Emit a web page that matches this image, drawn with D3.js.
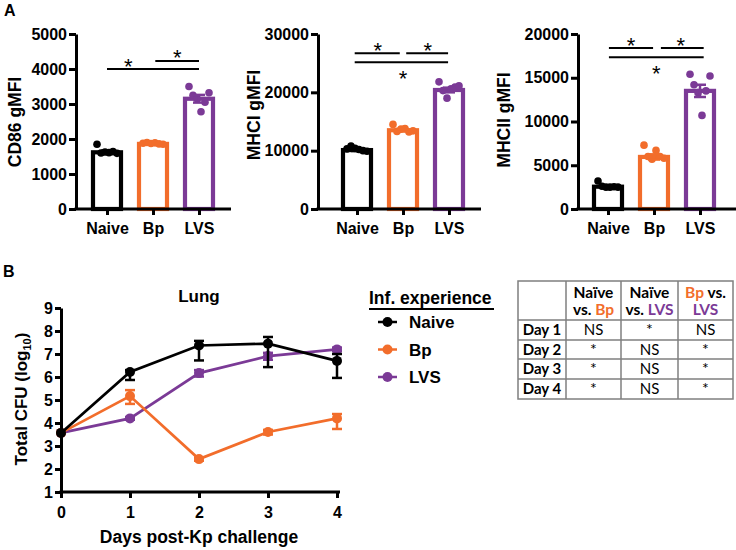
<!DOCTYPE html>
<html><head><meta charset="utf-8">
<script src="https://cdn.jsdelivr.net/npm/d3@7"></script>
<style>body{margin:0;background:#fff}svg{display:block}</style>
</head><body>
<svg id="c" width="736" height="550"></svg>
<script>
// ---------- DATA ----------
const groups = ["Naive", "Bp", "LVS"];
const groupColors = ["#000000", "#F26D2B", "#7B3A96"];

const cd86Ticks = [0, 1000, 2000, 3000, 4000, 5000];
const cd86Mean = [1620, 1860, 3150];
const cd86Sem = [45, 15, 110];
const cd86Pts = [[1850, 1600, 1630, 1610, 1640, 1590], [1880, 1900, 1870, 1890, 1860, 1850], [3500, 3250, 3150, 2780, 3050, 3320]];

const mhciTicks = [0, 10000, 20000, 30000];
const mhciMean = [10100, 13500, 20400];
const mhciSem = [150, 200, 400];
const mhciPts = [[10300, 10800, 10400, 10200, 10000, 9900], [14500, 13300, 13700, 13800, 13200, 13400], [21800, 20300, 19000, 20600, 20900, 21100]];

const mhciiTicks = [0, 5000, 10000, 15000, 20000];
const mhciiMean = [2550, 5950, 13500];
const mhciiSem = [100, 300, 700];
const mhciiPts = [[3200, 2600, 2500, 2500, 2550, 2500], [7300, 6000, 5700, 6700, 6000, 5800], [15400, 14200, 13300, 10700, 13500, 15200]];

// significance brackets: [from category, to category, y value]
const cd86Lines = [[0, 2, 4000], [1.05, 2, 4230]];
const cd86Stars = [[0.46, 4000], [1.53, 4230]];
const mhciLines = [[-0.05, 0.93, 26700], [1.07, 1.98, 26700], [-0.05, 1.98, 25150]];
const mhciStars = [[0.45, 26700, "above"], [1.54, 26700, "above"], [1.0, 25150, "below"]];
const mhciiLines = [[0.02, 0.98, 18400], [1.15, 2.08, 18400], [0.02, 2.08, 17350]];
const mhciiStars = [[0.5, 18400, "above"], [1.58, 18400, "above"], [1.05, 17350, "below"]];

// Panel B
const days = [0, 1, 2, 3, 4];
const yTicksB = [1, 2, 3, 4, 5, 6, 7, 8, 9];
const naiveCFU = [3.57, 6.22, 7.37, 7.45, 6.70];
const naiveLo = [3.57, 5.87, 6.72, 6.43, 5.96];
const naiveHi = [3.57, 6.30, 7.57, 7.74, 7.00];
const bpCFU = [3.57, 5.17, 2.43, 3.61, 4.20];
const bpLo = [3.57, 4.83, 2.36, 3.50, 3.74];
const bpHi = [3.57, 5.43, 2.50, 3.70, 4.39];
const lvsCFU = [3.57, 4.20, 6.17, 6.91, 7.20];
const lvsLo = [3.57, 4.14, 6.02, 6.75, 7.12];
const lvsHi = [3.57, 4.26, 6.30, 7.05, 7.28];

const tableRowLabels = ["Day 1", "Day 2", "Day 3", "Day 4"];
const colNaiveBp = ["NS", "*", "*", "*"];
const colNaiveLvs = ["*", "NS", "NS", "NS"];
const colBpLvs = ["NS", "*", "*", "*"];

// ---------- DRAW ----------
const svg = d3.select("#c");
const FONT = "'Liberation Sans', Arial, sans-serif";

svg.append("text").attr("x", 4).attr("y", 16).text("A")
  .attr("font-family", FONT).attr("font-weight", "bold").attr("font-size", 16);
svg.append("text").attr("x", 3).attr("y", 277).text("B")
  .attr("font-family", FONT).attr("font-weight", "bold").attr("font-size", 16);

function styleAxis(g) {
  g.selectAll("path,line").attr("stroke", "#000").attr("stroke-width", 3);
  g.selectAll("text").attr("font-family", FONT).attr("font-weight", "bold")
    .attr("font-size", 16).attr("fill", "#000");
}

function barChart(cfg) {
  const g = svg.append("g");
  const y = d3.scaleLinear().domain([0, cfg.ticks[cfg.ticks.length - 1]]).range([209, 34]);
  const x = d3.scalePoint().domain(groups).range([cfg.first, cfg.first + 92]);

  groups.forEach((gname, i) => {
    const cx = x(gname), col = groupColors[i];
    g.append("rect").attr("x", cx - 14).attr("width", 28)
      .attr("y", y(cfg.mean[i])).attr("height", y(0) - y(cfg.mean[i]))
      .attr("fill", "#fff").attr("stroke", col).attr("stroke-width", 4.2);
    const pts = cfg.pts[i];
    pts.forEach((v, j) => {
      const off = -10 + 20 * j / (pts.length - 1);
      g.append("circle").attr("cx", cx + off).attr("cy", y(v)).attr("r", 3.8).attr("fill", col);
    });
    const lo = y(cfg.mean[i] - cfg.sem[i]), hi = y(cfg.mean[i] + cfg.sem[i]);
    g.append("line").attr("x1", cx).attr("x2", cx).attr("y1", lo).attr("y2", hi)
      .attr("stroke", col).attr("stroke-width", 2.5);
    [lo, hi].forEach(yy => g.append("line").attr("x1", cx - 6).attr("x2", cx + 6)
      .attr("y1", yy).attr("y2", yy).attr("stroke", col).attr("stroke-width", 2.5));
  });

  const ya = g.append("g").attr("transform", `translate(${cfg.axisX},0)`)
    .call(d3.axisLeft(y).tickValues(cfg.ticks).tickSize(7).tickSizeOuter(0).tickPadding(2).tickFormat(d3.format("d")));
  styleAxis(ya);
  g.append("line").attr("x1", cfg.axisX - 1.5).attr("x2", cfg.right).attr("y1", 209).attr("y2", 209)
    .attr("stroke", "#000").attr("stroke-width", 3);
  const xa = g.append("g").attr("transform", "translate(0,209)")
    .call(d3.axisBottom(x).tickSize(6).tickSizeOuter(0).tickPadding(8));
  xa.select(".domain").remove();
  styleAxis(xa);

  g.append("text").attr("transform", `translate(${cfg.titleX},${cfg.titleY}) rotate(-90)`)
    .attr("text-anchor", "middle").attr("font-family", FONT).attr("font-weight", "bold")
    .attr("font-size", 17.5).text(cfg.title);

  const pos = p => cfg.first + 46 * p;
  cfg.lines.forEach(l => g.append("line").attr("x1", pos(l[0])).attr("x2", pos(l[1]))
    .attr("y1", y(l[2])).attr("y2", y(l[2])).attr("stroke", "#000").attr("stroke-width", 2));
  cfg.stars.forEach(s => {
    const cy = s[2] === "below" ? y(s[1]) + 12 : y(s[1]) - 7.5;
    g.append("text").attr("x", pos(s[0])).attr("y", cy + 12).attr("text-anchor", "middle")
      .attr("font-family", FONT).attr("font-size", 22).text("*");
  });
}

barChart({ ticks: cd86Ticks, mean: cd86Mean, sem: cd86Sem, pts: cd86Pts, axisX: 76, first: 107, right: 231,
  title: "CD86 gMFI", titleX: 21, titleY: 122, lines: cd86Lines, stars: cd86Stars });
barChart({ ticks: mhciTicks, mean: mhciMean, sem: mhciSem, pts: mhciPts, axisX: 318, first: 357, right: 481,
  title: "MHCI gMFI", titleX: 260, titleY: 115, lines: mhciLines, stars: mhciStars });
barChart({ ticks: mhciiTicks, mean: mhciiMean, sem: mhciiSem, pts: mhciiPts, axisX: 578, first: 608, right: 736,
  title: "MHCII gMFI", titleX: 510, titleY: 120, lines: mhciiLines, stars: mhciiStars });

// ---------- PANEL B ----------
const gb = svg.append("g");
const xB = d3.scaleLinear().domain([0, 4]).range([61, 337]);
const yB = d3.scaleLinear().domain([1, 9]).range([492, 308]);

const series = [
  { name: "LVS", v: lvsCFU, lo: lvsLo, hi: lvsHi, col: groupColors[2] },
  { name: "Bp", v: bpCFU, lo: bpLo, hi: bpHi, col: groupColors[1] },
  { name: "Naive", v: naiveCFU, lo: naiveLo, hi: naiveHi, col: groupColors[0] }
];
const lineGen = d3.line().x((d, i) => xB(days[i])).y(d => yB(d));
series.forEach(s => {
  gb.append("path").attr("d", lineGen(s.v)).attr("fill", "none").attr("stroke", s.col).attr("stroke-width", 2.7);
  days.forEach((d, i) => {
    const cx = xB(d);
    if (s.hi[i] - s.lo[i] > 0.01) {
      gb.append("line").attr("x1", cx).attr("x2", cx).attr("y1", yB(s.lo[i])).attr("y2", yB(s.hi[i]))
        .attr("stroke", s.col).attr("stroke-width", 2.5);
      [s.lo[i], s.hi[i]].forEach(v => gb.append("line").attr("x1", cx - 5).attr("x2", cx + 5)
        .attr("y1", yB(v)).attr("y2", yB(v)).attr("stroke", s.col).attr("stroke-width", 2.5));
    }
    gb.append("circle").attr("cx", cx).attr("cy", yB(s.v[i])).attr("r", 5).attr("fill", s.col);
  });
});

const yaB = gb.append("g").attr("transform", "translate(61,0)")
  .call(d3.axisLeft(yB).tickValues(yTicksB).tickSize(6).tickSizeOuter(0).tickPadding(2).tickFormat(d3.format("d")));
styleAxis(yaB);
gb.append("line").attr("x1", 59.5).attr("x2", 340).attr("y1", 492).attr("y2", 492)
  .attr("stroke", "#000").attr("stroke-width", 3);
const xaB = gb.append("g").attr("transform", "translate(0,492)")
  .call(d3.axisBottom(xB).tickValues(days).tickSize(6).tickSizeOuter(0).tickPadding(9).tickFormat(d3.format("d")));
xaB.select(".domain").remove();
styleAxis(xaB);

gb.append("text").attr("x", 199).attr("y", 302).attr("text-anchor", "middle")
  .attr("font-family", FONT).attr("font-weight", "bold").attr("font-size", 17).text("Lung");
gb.append("text").attr("x", 199).attr("y", 543).attr("text-anchor", "middle")
  .attr("font-family", FONT).attr("font-weight", "bold").attr("font-size", 17.5).text("Days post-Kp challenge");
const yt = gb.append("text").attr("transform", "translate(27,399) rotate(-90)").attr("text-anchor", "middle")
  .attr("font-family", FONT).attr("font-weight", "bold").attr("font-size", 17);
yt.append("tspan").text("Total CFU (log");
yt.append("tspan").attr("font-size", 11).attr("dy", 4).text("10");
yt.append("tspan").attr("dy", -4).text(")");

// legend
const lg = svg.append("g");
lg.append("text").attr("x", 369).attr("y", 304).attr("font-family", FONT).attr("font-weight", "bold")
  .attr("font-size", 17.5).text("Inf. experience");
lg.append("line").attr("x1", 369).attr("x2", 494).attr("y1", 309).attr("y2", 309).attr("stroke", "#000").attr("stroke-width", 2);
groups.forEach((gname, i) => {
  const cy = 322 + i * 27.5;
  lg.append("line").attr("x1", 378).attr("x2", 397).attr("y1", cy).attr("y2", cy)
    .attr("stroke", groupColors[i]).attr("stroke-width", 2.5);
  lg.append("circle").attr("cx", 387.5).attr("cy", cy).attr("r", 5).attr("fill", groupColors[i]);
  lg.append("text").attr("x", 409).attr("y", cy + 6).attr("font-family", FONT).attr("font-weight", "bold")
    .attr("font-size", 17).text(gname);
});

// table
const TF = "Lato, 'Open Sans', sans-serif";
const tb = svg.append("g");
const colX = [518, 566, 621, 678, 733];
const rowY = [281, 320, 340, 359, 379, 399];
tb.append("rect").attr("x", colX[0]).attr("y", rowY[0]).attr("width", colX[4] - colX[0]).attr("height", rowY[5] - rowY[0])
  .attr("fill", "none").attr("stroke", "#7f7f7f").attr("stroke-width", 1.5);
colX.slice(1, 4).forEach(x => tb.append("line").attr("x1", x).attr("x2", x).attr("y1", rowY[0]).attr("y2", rowY[5])
  .attr("stroke", "#7f7f7f").attr("stroke-width", 1.5));
rowY.slice(1, 5).forEach(y => tb.append("line").attr("x1", colX[0]).attr("x2", colX[4]).attr("y1", y).attr("y2", y)
  .attr("stroke", "#7f7f7f").attr("stroke-width", 1.5));
const cc = i => (colX[i] + colX[i + 1]) / 2;
function hdr(i, parts, y) {
  const t = tb.append("text").attr("x", cc(i)).attr("y", y).attr("text-anchor", "middle")
    .attr("font-family", TF).attr("font-weight", "bold").attr("font-size", 15.5);
  parts.forEach(p => t.append("tspan").attr("fill", p[1]).text(p[0]));
}
hdr(1, [["Naïve", "#000"]], 298); hdr(1, [["vs. ", "#000"], ["Bp", groupColors[1]]], 315);
hdr(2, [["Naïve", "#000"]], 298); hdr(2, [["vs. ", "#000"], ["LVS", groupColors[2]]], 315);
hdr(3, [["Bp", groupColors[1]], [" vs.", "#000"]], 298); hdr(3, [["LVS", groupColors[2]]], 315);
tableRowLabels.forEach((lab, r) => {
  const yy = rowY[r + 1] + 15;
  tb.append("text").attr("x", cc(0)).attr("y", yy).attr("text-anchor", "middle").attr("font-family", TF)
    .attr("font-weight", "bold").attr("font-size", 15).text(lab);
  [colNaiveBp, colNaiveLvs, colBpLvs].forEach((col, c) => {
    const isStar = col[r] === "*";
    tb.append("text").attr("x", cc(c + 1)).attr("y", yy).attr("text-anchor", "middle").attr("font-family", TF)
      .attr("font-size", isStar ? 16 : 15).text(col[r]);
  });
});
</script>
</body></html>
